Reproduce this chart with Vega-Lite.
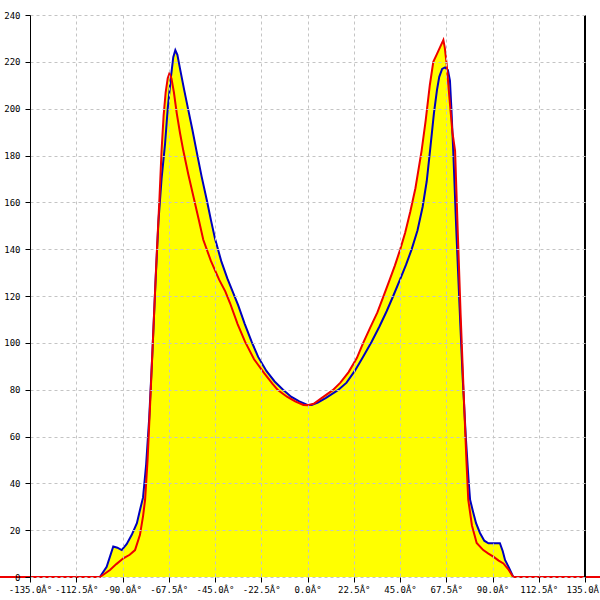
{
  "$schema": "https://vega.github.io/schema/vega-lite/v6.json",
  "width": 555,
  "height": 562,
  "autosize": {"type": "none"},
  "padding": {"left": 30, "top": 15, "right": 15, "bottom": 23},
  "background": "white",
  "config": {
    "view": {"stroke": null},
    "axis": {
      "labelFont": "DejaVu Sans Mono",
      "labelFontSize": 9,
      "labelColor": "black",
      "tickColor": "black",
      "domainColor": "black",
      "gridColor": "#c4c4c4",
      "gridDash": [3, 3],
      "gridWidth": 1,
      "tickSize": 5
    }
  },
  "data": {
    "values": [
      {"s":"blue","x":-101,"y":0},{"s":"blue","x":-97.7,"y":4.4},{"s":"blue","x":-94.5,"y":13},{"s":"blue","x":-92.5,"y":12.5},{"s":"blue","x":-90.4,"y":11.5},{"s":"blue","x":-88,"y":14},{"s":"blue","x":-85.5,"y":18},{"s":"blue","x":-83,"y":23},{"s":"blue","x":-81.5,"y":28.6},{"s":"blue","x":-80,"y":34},{"s":"blue","x":-78.5,"y":48},{"s":"blue","x":-77,"y":68},{"s":"blue","x":-75.5,"y":95},{"s":"blue","x":-74,"y":125},{"s":"blue","x":-72.5,"y":152},{"s":"blue","x":-71,"y":170},{"s":"blue","x":-69.3,"y":185},{"s":"blue","x":-68,"y":200},{"s":"blue","x":-66.5,"y":213},{"s":"blue","x":-65.3,"y":222},{"s":"blue","x":-64.3,"y":225},{"s":"blue","x":-63.3,"y":223},{"s":"blue","x":-62,"y":217},{"s":"blue","x":-60,"y":208},{"s":"blue","x":-58,"y":199.5},{"s":"blue","x":-56,"y":191},{"s":"blue","x":-54,"y":182},{"s":"blue","x":-51.5,"y":171},{"s":"blue","x":-49,"y":161},{"s":"blue","x":-47,"y":152.5},{"s":"blue","x":-45,"y":144.5},{"s":"blue","x":-42,"y":135},{"s":"blue","x":-39,"y":127.5},{"s":"blue","x":-36,"y":121},{"s":"blue","x":-33.7,"y":116},{"s":"blue","x":-30.5,"y":108},{"s":"blue","x":-27.2,"y":100.5},{"s":"blue","x":-24,"y":94},{"s":"blue","x":-20,"y":88},{"s":"blue","x":-16,"y":83.5},{"s":"blue","x":-11.9,"y":80},{"s":"blue","x":-8,"y":77},{"s":"blue","x":-4,"y":75},{"s":"blue","x":0,"y":73.5},{"s":"blue","x":2,"y":73.5},{"s":"blue","x":5,"y":74.5},{"s":"blue","x":9,"y":76.5},{"s":"blue","x":14.8,"y":79.8},{"s":"blue","x":19,"y":83},{"s":"blue","x":23,"y":88},{"s":"blue","x":27,"y":94},{"s":"blue","x":31.2,"y":100.5},{"s":"blue","x":35,"y":107},{"s":"blue","x":38.5,"y":113.5},{"s":"blue","x":41.7,"y":120},{"s":"blue","x":45,"y":127},{"s":"blue","x":48,"y":133.5},{"s":"blue","x":50.7,"y":140},{"s":"blue","x":53.5,"y":148},{"s":"blue","x":56,"y":158},{"s":"blue","x":58,"y":169},{"s":"blue","x":59.6,"y":182},{"s":"blue","x":61.5,"y":198},{"s":"blue","x":63,"y":208},{"s":"blue","x":64.1,"y":213.6},{"s":"blue","x":65.5,"y":217},{"s":"blue","x":66.9,"y":217.6},{"s":"blue","x":68.3,"y":216.5},{"s":"blue","x":69.3,"y":212},{"s":"blue","x":70,"y":200},{"s":"blue","x":70.9,"y":182},{"s":"blue","x":72.3,"y":150},{"s":"blue","x":74,"y":115},{"s":"blue","x":75.5,"y":85},{"s":"blue","x":77,"y":60},{"s":"blue","x":78.3,"y":42},{"s":"blue","x":79.1,"y":33},{"s":"blue","x":80.5,"y":28},{"s":"blue","x":82,"y":23},{"s":"blue","x":83.9,"y":18.8},{"s":"blue","x":86,"y":15.5},{"s":"blue","x":88,"y":14.4},{"s":"blue","x":91,"y":14.4},{"s":"blue","x":93.6,"y":14.4},{"s":"blue","x":95,"y":11},{"s":"blue","x":96.1,"y":7.3},{"s":"blue","x":98,"y":4},{"s":"blue","x":100.1,"y":0},
      {"s":"red","x":-150,"y":0},{"s":"red","x":-101,"y":0},{"s":"red","x":-98.5,"y":1.5},{"s":"red","x":-96.1,"y":3},{"s":"red","x":-93,"y":5.5},{"s":"red","x":-89.6,"y":8},{"s":"red","x":-86.5,"y":9.5},{"s":"red","x":-83.9,"y":11.5},{"s":"red","x":-81.5,"y":18},{"s":"red","x":-80,"y":26},{"s":"red","x":-79,"y":33},{"s":"red","x":-77.8,"y":50},{"s":"red","x":-76.5,"y":75},{"s":"red","x":-75,"y":105},{"s":"red","x":-73.5,"y":135},{"s":"red","x":-72,"y":162},{"s":"red","x":-71,"y":182},{"s":"red","x":-70,"y":197},{"s":"red","x":-69,"y":207},{"s":"red","x":-68,"y":213},{"s":"red","x":-67.2,"y":215},{"s":"red","x":-66.2,"y":213},{"s":"red","x":-65,"y":207},{"s":"red","x":-63.6,"y":198},{"s":"red","x":-62,"y":189.5},{"s":"red","x":-60.4,"y":182},{"s":"red","x":-58,"y":172},{"s":"red","x":-55.5,"y":162.5},{"s":"red","x":-53,"y":153},{"s":"red","x":-50.7,"y":144},{"s":"red","x":-47,"y":135},{"s":"red","x":-43,"y":127},{"s":"red","x":-40,"y":122},{"s":"red","x":-37.7,"y":117},{"s":"red","x":-34,"y":108},{"s":"red","x":-30.4,"y":100.5},{"s":"red","x":-26,"y":93},{"s":"red","x":-21,"y":87},{"s":"red","x":-17,"y":82.5},{"s":"red","x":-14.4,"y":79.8},{"s":"red","x":-10,"y":77},{"s":"red","x":-6,"y":75},{"s":"red","x":-2,"y":73.5},{"s":"red","x":0,"y":73.4},{"s":"red","x":3,"y":74},{"s":"red","x":7,"y":76.5},{"s":"red","x":12.3,"y":79.8},{"s":"red","x":16,"y":83},{"s":"red","x":20,"y":87.5},{"s":"red","x":24,"y":93.5},{"s":"red","x":27.1,"y":100},{"s":"red","x":30.5,"y":106.5},{"s":"red","x":34,"y":113},{"s":"red","x":36.9,"y":119.7},{"s":"red","x":40,"y":127},{"s":"red","x":42.5,"y":133},{"s":"red","x":45,"y":139.6},{"s":"red","x":47.5,"y":147},{"s":"red","x":50,"y":156},{"s":"red","x":52.5,"y":166},{"s":"red","x":55.5,"y":182},{"s":"red","x":57.5,"y":195},{"s":"red","x":59.5,"y":210},{"s":"red","x":61.2,"y":220},{"s":"red","x":63,"y":223.4},{"s":"red","x":64.5,"y":226.3},{"s":"red","x":66.1,"y":229.3},{"s":"red","x":66.8,"y":226},{"s":"red","x":67.7,"y":219},{"s":"red","x":69,"y":205},{"s":"red","x":70.5,"y":190},{"s":"red","x":71.8,"y":182},{"s":"red","x":73,"y":150},{"s":"red","x":74.5,"y":112},{"s":"red","x":76,"y":78},{"s":"red","x":77.3,"y":50},{"s":"red","x":78.2,"y":33},{"s":"red","x":80,"y":22},{"s":"red","x":82.3,"y":14.5},{"s":"red","x":85.5,"y":11.5},{"s":"red","x":88,"y":10},{"s":"red","x":90.4,"y":8.7},{"s":"red","x":93,"y":7},{"s":"red","x":95.3,"y":5.8},{"s":"red","x":97.5,"y":3.5},{"s":"red","x":100.1,"y":0},{"s":"red","x":143,"y":0}
    ]
  },
  "encoding": {
    "x": {
      "field": "x", "type": "quantitative",
      "scale": {"domain": [-135, 135], "nice": false, "zero": false},
      "axis": {
        "title": null, "zindex": 1, "domain": false, "grid": true,
        "gridOpacity": {"condition": {"test": "datum.value >= 135", "value": 0}, "value": 1},
        "values": [-135, -112.5, -90, -67.5, -45, -22.5, 0, 22.5, 45, 67.5, 90, 112.5, 135],
        "labelExpr": "(datum.value < 0 ? '-' : '') + format(abs(datum.value), '.1f') + 'Â°'",
        "labelPadding": 3, "labelFlush": false, "labelOverlap": false
      }
    },
    "y": {
      "field": "y", "type": "quantitative",
      "scale": {"domain": [0, 240], "nice": false},
      "axis": {
        "title": null, "zindex": 1, "grid": true,
        "values": [0, 20, 40, 60, 80, 100, 120, 140, 160, 180, 200, 220, 240],
        "labelPadding": 5, "labelFlush": false, "labelOverlap": false
      }
    }
  },
  "layer": [
    {
      "mark": {"type": "area", "color": "#ffff00", "clip": false},
      "encoding": {
        "detail": {"field": "s"},
        "y": {"field": "y", "type": "quantitative", "stack": null}
      }
    },
    {
      "mark": {"type": "line", "strokeWidth": 2, "clip": false},
      "encoding": {
        "color": {
          "field": "s", "type": "nominal",
          "scale": {"domain": ["blue", "red"], "range": ["#0000c0", "#ee0000"]},
          "legend": null
        }
      }
    },
    {
      "mark": {"type": "rule", "color": "black", "strokeWidth": 1},
      "encoding": {
        "x": {"datum": 135, "type": "quantitative"},
        "y": null
      }
    }
  ]
}
